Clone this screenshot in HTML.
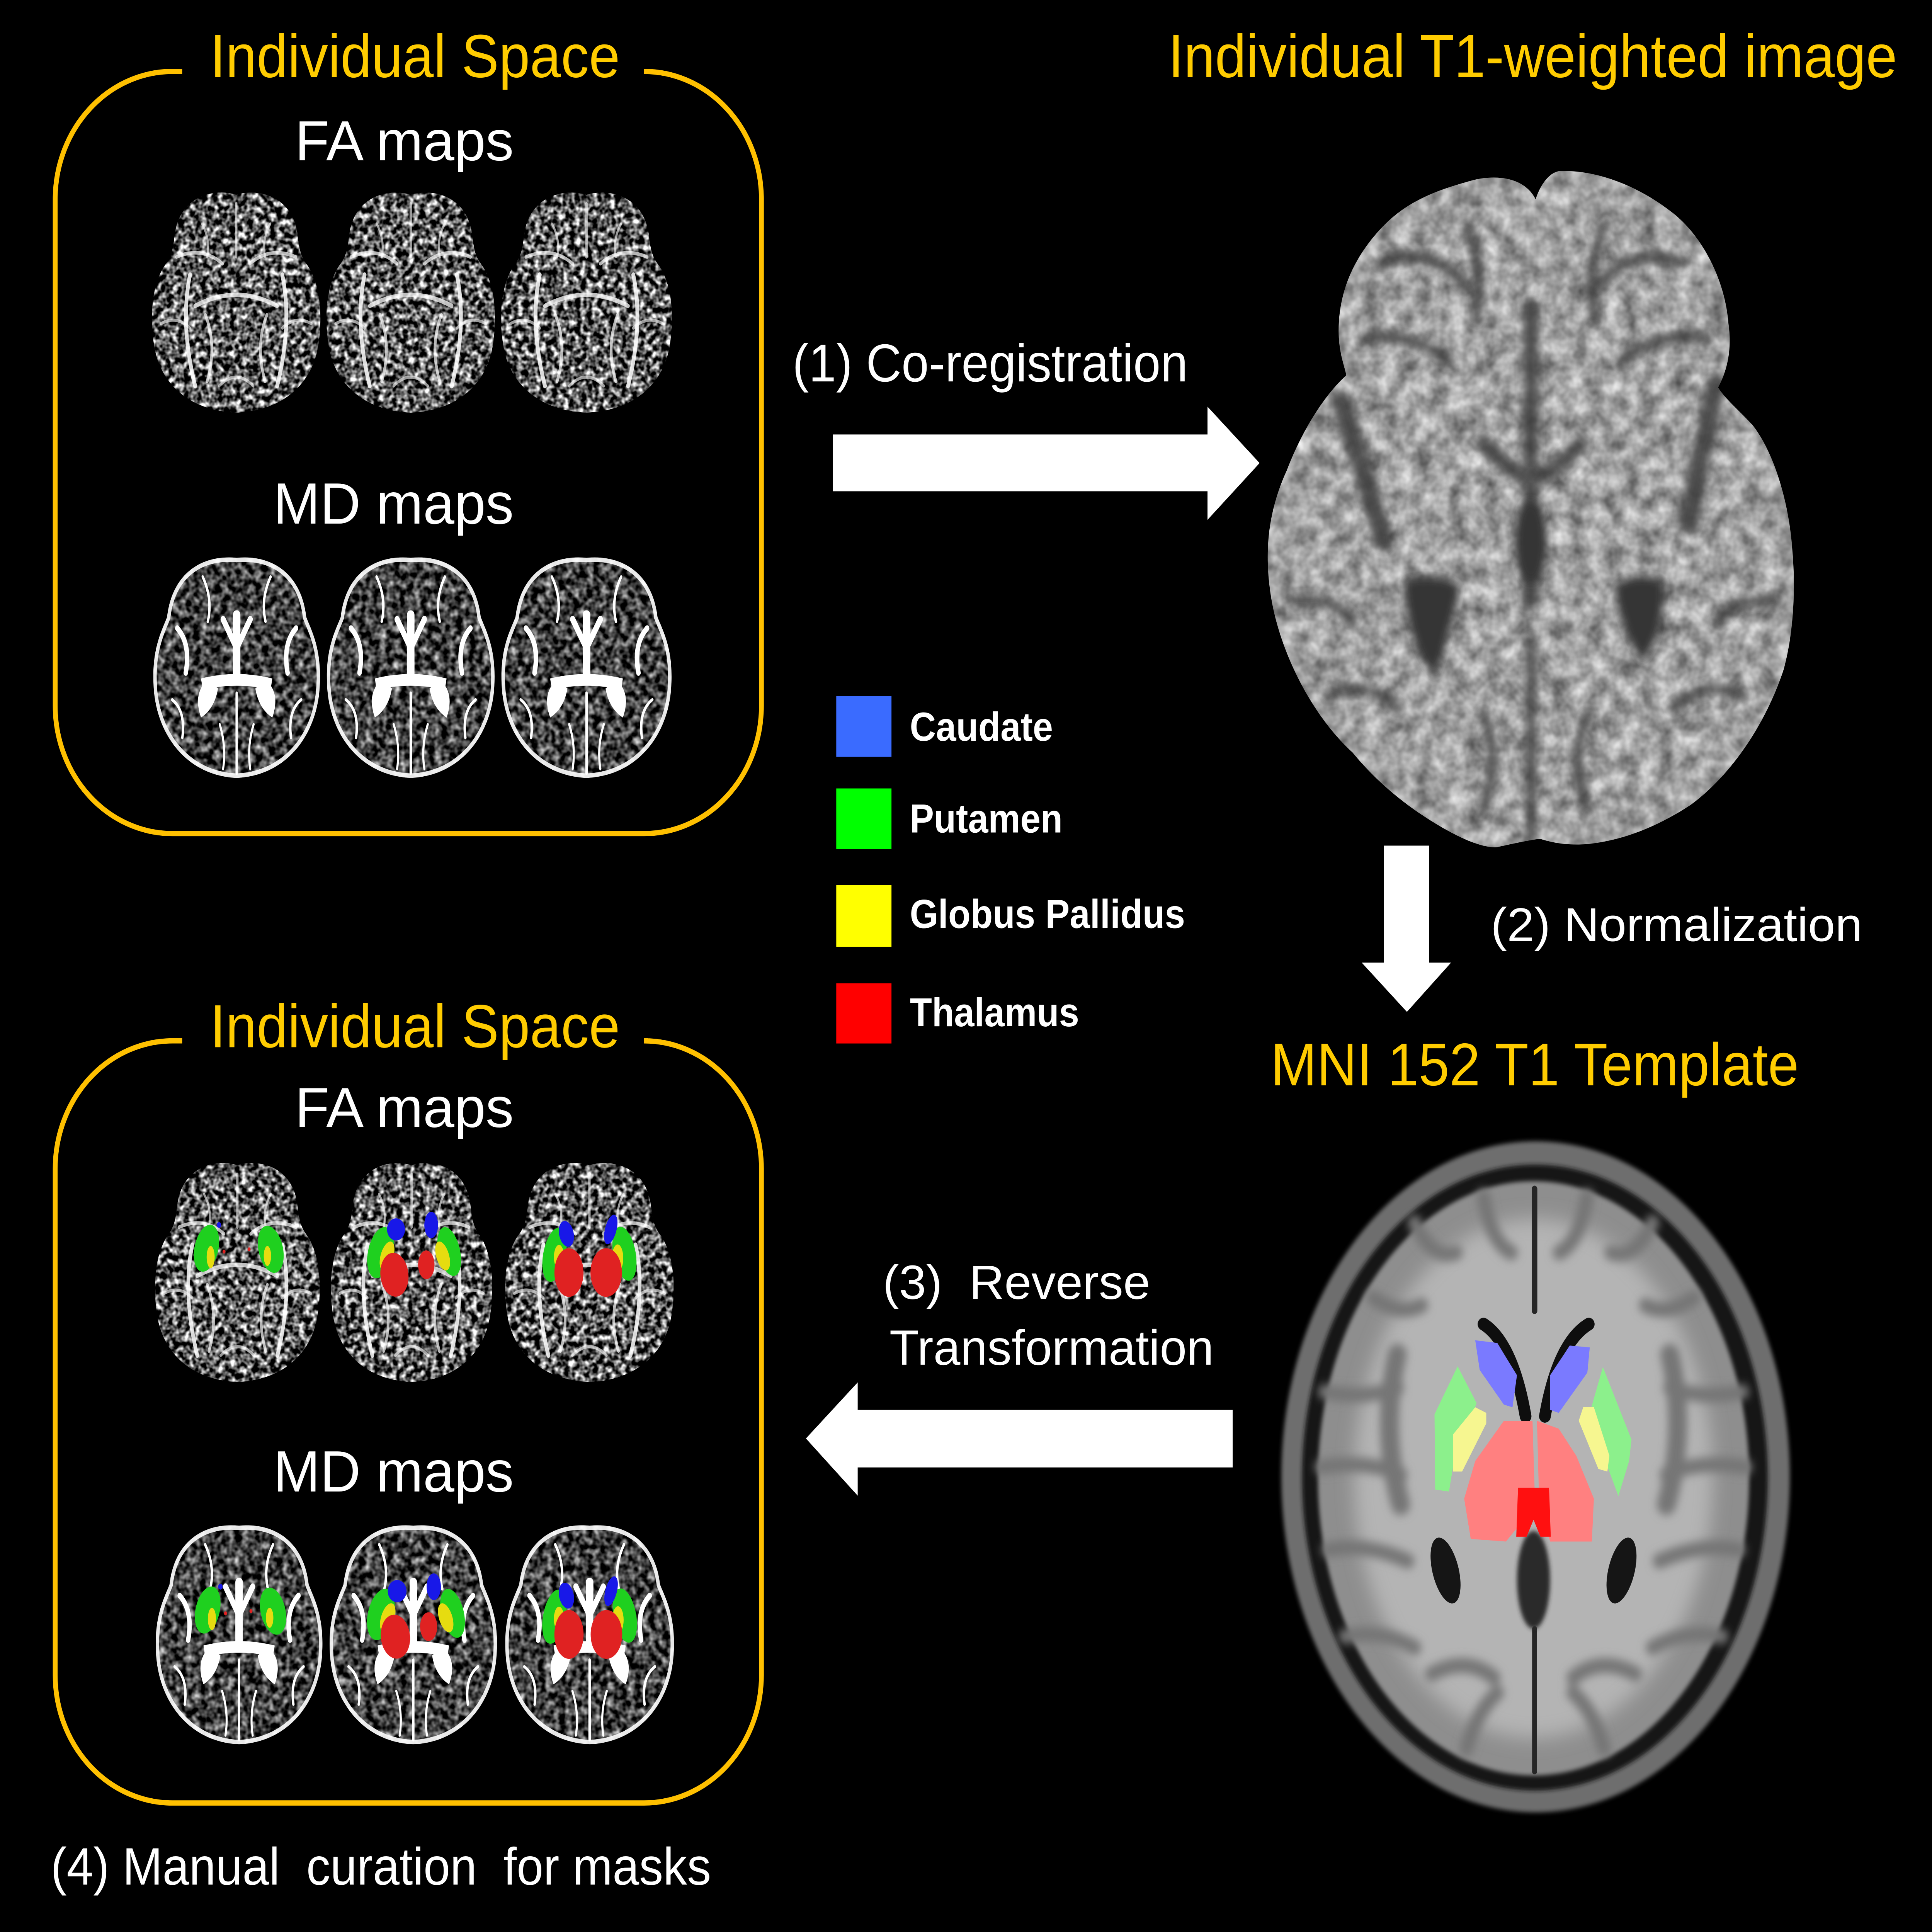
<!DOCTYPE html>
<html><head><meta charset="utf-8"><style>
html,body{margin:0;padding:0;background:#000;overflow:hidden;width:100%;height:100%;}
svg{display:block;width:100vw;height:100vh;}
text{font-family:"Liberation Sans",Arial,sans-serif;white-space:pre;}
</style></head><body>
<svg xmlns="http://www.w3.org/2000/svg" xmlns:xlink="http://www.w3.org/1999/xlink" viewBox="0 0 5600 5136" preserveAspectRatio="none">
<defs>
<path id="bp1" d="M 500 20 C 380 -10, 170 20, 140 200 C 130 270, 120 300, 80 340 C 10 420, -10 560, 20 700 C 50 850, 200 990, 500 1000 C 800 990, 950 850, 980 700 C 1010 560, 990 420, 920 340 C 880 300, 870 270, 860 200 C 830 20, 620 -10, 500 20 Z"/>
<path id="bp2" d="M 500 15 C 300 0, 120 80, 90 280 C 60 340, 0 420, 10 580 C 20 800, 200 990, 500 1000 C 800 990, 980 800, 990 580 C 1000 420, 940 340, 910 280 C 880 80, 700 0, 500 15 Z"/>
<clipPath id="c1b" clipPathUnits="objectBoundingBox"><use xlink:href="#bp1" transform="scale(0.001)"/></clipPath>
<clipPath id="c2b" clipPathUnits="objectBoundingBox"><use xlink:href="#bp2" transform="scale(0.001)"/></clipPath>
<clipPath id="c1u"><use xlink:href="#bp1"/></clipPath>
<clipPath id="c2u"><use xlink:href="#bp2"/></clipPath>
<clipPath id="t1c"><path id="t1p" d="M 4451 530 C 4420 470, 4330 460, 4250 484 C 4150 510, 4070 540, 4000 610 C 3920 690, 3880 780, 3880 880 C 3880 940, 3900 980, 3902 998 C 3850 1040, 3780 1130, 3730 1250 C 3680 1350, 3665 1450, 3680 1560 C 3700 1720, 3800 1900, 3920 2000 C 4000 2090, 4100 2160, 4200 2210 C 4260 2240, 4310 2255, 4340 2252 C 4400 2240, 4440 2232, 4464 2230 C 4500 2240, 4540 2248, 4600 2244 C 4700 2235, 4800 2200, 4900 2140 C 5020 2060, 5120 1920, 5170 1780 C 5200 1680, 5205 1560, 5195 1460 C 5185 1330, 5140 1200, 5080 1130 C 5040 1090, 5000 1060, 4980 1030 C 5010 980, 5020 920, 5010 860 C 5000 740, 4930 620, 4840 560 C 4740 490, 4620 450, 4518 455 C 4490 460, 4465 490, 4451 530 Z"/></clipPath>

<filter id="fa1" x="0" y="0" width="1" height="1" color-interpolation-filters="sRGB"><feTurbulence type="fractalNoise" baseFrequency="0.06" numOctaves="2" seed="1"/><feColorMatrix type="matrix" values="2.6 0 0 0 -0.95  2.6 0 0 0 -0.95  2.6 0 0 0 -0.95  0 0 0 0 1"/></filter>
<filter id="fa2" x="0" y="0" width="1" height="1" color-interpolation-filters="sRGB"><feTurbulence type="fractalNoise" baseFrequency="0.06" numOctaves="2" seed="7"/><feColorMatrix type="matrix" values="2.6 0 0 0 -0.95  2.6 0 0 0 -0.95  2.6 0 0 0 -0.95  0 0 0 0 1"/></filter>
<filter id="fa3" x="0" y="0" width="1" height="1" color-interpolation-filters="sRGB"><feTurbulence type="fractalNoise" baseFrequency="0.06" numOctaves="2" seed="13"/><feColorMatrix type="matrix" values="2.6 0 0 0 -0.95  2.6 0 0 0 -0.95  2.6 0 0 0 -0.95  0 0 0 0 1"/></filter>
<filter id="md1" x="0" y="0" width="1" height="1" color-interpolation-filters="sRGB"><feTurbulence type="fractalNoise" baseFrequency="0.05" numOctaves="2" seed="21"/><feColorMatrix type="matrix" values="1.6 0 0 0 -0.55  1.6 0 0 0 -0.55  1.6 0 0 0 -0.55  0 0 0 0 1"/></filter>
<filter id="md2" x="0" y="0" width="1" height="1" color-interpolation-filters="sRGB"><feTurbulence type="fractalNoise" baseFrequency="0.05" numOctaves="2" seed="33"/><feColorMatrix type="matrix" values="1.6 0 0 0 -0.55  1.6 0 0 0 -0.55  1.6 0 0 0 -0.55  0 0 0 0 1"/></filter>
<filter id="t1f" x="0" y="0" width="1" height="1" color-interpolation-filters="sRGB"><feTurbulence type="fractalNoise" baseFrequency="0.02" numOctaves="3" seed="5"/><feColorMatrix type="matrix" values="0.7 0 0 0 0.28  0.7 0 0 0 0.28  0.7 0 0 0 0.28  0 0 0 0 1"/></filter>
<filter id="bl4" x="-20%" y="-20%" width="140%" height="140%"><feGaussianBlur stdDeviation="4"/></filter>
<filter id="bl6" x="-20%" y="-20%" width="140%" height="140%"><feGaussianBlur stdDeviation="6"/></filter>
<filter id="bl12" x="-20%" y="-20%" width="140%" height="140%"><feGaussianBlur stdDeviation="12"/></filter>
<filter id="bl25" x="-20%" y="-20%" width="140%" height="140%"><feGaussianBlur stdDeviation="25"/></filter>

<g id="faT" fill="none" stroke="#fff" stroke-linecap="round">
 <path d="M 230 380 Q 170 600 260 880" stroke-width="22" opacity=".85"/>
 <path d="M 770 380 Q 830 600 740 880" stroke-width="22" opacity=".85"/>
 <path d="M 260 520 Q 500 420 740 520" stroke-width="20" opacity=".75"/>
 <path d="M 320 560 Q 390 700 330 860" stroke-width="16" opacity=".7"/>
 <path d="M 680 560 Q 610 700 670 860" stroke-width="16" opacity=".7"/>
 <path d="M 500 60 L 500 300" stroke-width="14" opacity=".6"/>
 <path d="M 150 300 Q 300 250 420 330" stroke-width="16" opacity=".7"/>
 <path d="M 850 300 Q 700 250 580 330" stroke-width="16" opacity=".7"/>
 <path d="M 60 600 Q 150 560 230 620" stroke-width="14" opacity=".6"/>
 <path d="M 940 600 Q 850 560 770 620" stroke-width="14" opacity=".6"/>
 <path d="M 300 150 Q 350 220 330 300" stroke-width="12" opacity=".6"/>
 <path d="M 700 150 Q 650 220 670 300" stroke-width="12" opacity=".6"/>
 <path d="M 400 880 Q 500 800 600 880" stroke-width="14" opacity=".6"/>
</g>
<g id="mdT">
 <use xlink:href="#bp2" fill="none" stroke="#fff" stroke-width="40" opacity=".9"/>
 <g fill="#fff">
  <path d="M 330 560 Q 240 620 290 730 Q 370 690 390 600 Z"/>
  <path d="M 670 560 Q 760 620 710 730 Q 630 690 610 600 Z"/>
  <path d="M 290 555 Q 500 515 710 555 L 700 605 Q 500 570 300 605 Z"/>
  <rect x="478" y="250" width="44" height="330" rx="20"/>
 </g>
 <g fill="none" stroke="#fff" stroke-linecap="round">
  <path d="M 420 290 L 500 420 L 580 290" stroke-width="30"/>
  <path d="M 150 330 Q 230 400 200 530" stroke-width="26"/>
  <path d="M 850 330 Q 770 400 800 530" stroke-width="26"/>
  <path d="M 500 620 L 500 980" stroke-width="14"/>
  <path d="M 300 100 Q 360 200 330 300" stroke-width="14"/>
  <path d="M 700 100 Q 640 200 670 300" stroke-width="14"/>
  <path d="M 120 650 Q 200 700 180 820" stroke-width="14"/>
  <path d="M 880 650 Q 800 700 820 820" stroke-width="14"/>
  <path d="M 400 760 Q 440 860 420 960" stroke-width="12"/>
  <path d="M 600 760 Q 560 860 580 960" stroke-width="12"/>
 </g>
</g>
<g id="ovA">
 <ellipse cx="310" cy="415" rx="75" ry="120" transform="rotate(20 310 415)" fill="#1fd01f"/>
 <ellipse cx="730" cy="410" rx="65" ry="115" transform="rotate(-20 730 410)" fill="#1fd01f"/>
 <ellipse cx="350" cy="430" rx="38" ry="70" transform="rotate(25 350 430)" fill="#e6dc10"/>
 <ellipse cx="690" cy="430" rx="38" ry="70" transform="rotate(-25 690 430)" fill="#e6dc10"/>
 <ellipse cx="405" cy="310" rx="55" ry="50" fill="#1818e8"/>
 <ellipse cx="620" cy="290" rx="42" ry="60" fill="#1818e8"/>
 <ellipse cx="395" cy="515" rx="85" ry="100" transform="rotate(-15 395 515)" fill="#e02222"/>
 <ellipse cx="590" cy="470" rx="50" ry="65" fill="#e02222"/>
</g>
<g id="ovB">
 <ellipse cx="295" cy="425" rx="65" ry="125" transform="rotate(15 295 425)" fill="#1fd01f"/>
 <ellipse cx="705" cy="420" rx="65" ry="125" transform="rotate(-15 705 420)" fill="#1fd01f"/>
 <ellipse cx="322" cy="435" rx="30" ry="55" fill="#e6dc10"/>
 <ellipse cx="665" cy="440" rx="33" ry="62" fill="#e6dc10"/>
 <ellipse cx="365" cy="330" rx="42" ry="60" transform="rotate(-20 365 330)" fill="#1818e8"/>
 <ellipse cx="625" cy="310" rx="33" ry="70" transform="rotate(20 625 310)" fill="#1818e8"/>
 <ellipse cx="380" cy="505" rx="85" ry="110" fill="#e02222"/>
 <ellipse cx="598" cy="505" rx="92" ry="110" fill="#e02222"/>
</g>
<g id="ovC">
 <ellipse cx="315" cy="395" rx="70" ry="110" transform="rotate(20 315 395)" fill="#1fd01f"/>
 <ellipse cx="700" cy="400" rx="72" ry="110" transform="rotate(-20 700 400)" fill="#1fd01f"/>
 <ellipse cx="340" cy="435" rx="24" ry="50" fill="#e6dc10"/>
 <ellipse cx="680" cy="430" rx="22" ry="45" fill="#e6dc10"/>
 <circle cx="390" cy="290" r="13" fill="#1818e8"/>
 <circle cx="420" cy="410" r="9" fill="#e02222"/>
 <circle cx="570" cy="400" r="9" fill="#e02222"/>
</g>
</defs>

<rect width="5600" height="5136" fill="#000"/>

<!-- Boxes -->
<g fill="none" stroke="#ffc000" stroke-width="14">
<path d="M 528 190 H 500 A 340 340 0 0 0 160 530 V 1876 A 340 340 0 0 0 500 2216 H 1867 A 340 340 0 0 0 2207 1876 V 530 A 340 340 0 0 0 1867 190 H 1878"/>
<path d="M 528 2767 H 500 A 340 340 0 0 0 160 3107 V 4453 A 340 340 0 0 0 500 4793 H 1867 A 340 340 0 0 0 2207 4453 V 3107 A 340 340 0 0 0 1867 2767 H 1878"/>
</g>

<!-- Top FA brains -->
<rect x="437" y="506" width="495" height="591" filter="url(#fa1)" clip-path="url(#c1b)"/>
<g transform="translate(437,506) scale(0.495,0.591)" clip-path="url(#c1u)"><use xlink:href="#faT"/></g>
<rect x="943" y="506" width="495" height="591" filter="url(#fa2)" clip-path="url(#c1b)"/>
<g transform="translate(943,506) scale(0.495,0.591)" clip-path="url(#c1u)"><use xlink:href="#faT"/></g>
<rect x="1449" y="506" width="502" height="591" filter="url(#fa3)" clip-path="url(#c1b)"/>
<g transform="translate(1449,506) scale(0.502,0.591)" clip-path="url(#c1u)"><use xlink:href="#faT"/></g>

<!-- Top MD brains -->
<rect x="440" y="1474" width="492" height="594" filter="url(#md1)" clip-path="url(#c2b)"/>
<g transform="translate(440,1474) scale(0.492,0.594)" clip-path="url(#c2u)"><use xlink:href="#mdT"/></g>
<rect x="943" y="1474" width="495" height="594" filter="url(#md2)" clip-path="url(#c2b)"/>
<g transform="translate(943,1474) scale(0.495,0.594)" clip-path="url(#c2u)"><use xlink:href="#mdT"/></g>
<rect x="1449" y="1474" width="502" height="594" filter="url(#md1)" clip-path="url(#c2b)"/>
<g transform="translate(1449,1474) scale(0.502,0.594)" clip-path="url(#c2u)"><use xlink:href="#mdT"/></g>

<!-- Bottom FA brains -->
<rect x="446" y="3086" width="484" height="588" filter="url(#fa2)" clip-path="url(#c1b)"/>
<g transform="translate(446,3086) scale(0.484,0.588)" clip-path="url(#c1u)"><use xlink:href="#faT"/><use xlink:href="#ovC"/></g>
<rect x="956" y="3086" width="474" height="588" filter="url(#fa3)" clip-path="url(#c1b)"/>
<g transform="translate(956,3086) scale(0.474,0.588)" clip-path="url(#c1u)"><use xlink:href="#faT"/><use xlink:href="#ovA"/></g>
<rect x="1461" y="3086" width="495" height="588" filter="url(#fa1)" clip-path="url(#c1b)"/>
<g transform="translate(1461,3086) scale(0.495,0.588)" clip-path="url(#c1u)"><use xlink:href="#faT"/><use xlink:href="#ovB"/></g>

<!-- Bottom MD brains -->
<rect x="447" y="4047" width="492" height="590" filter="url(#md2)" clip-path="url(#c2b)"/>
<g transform="translate(447,4047) scale(0.492,0.590)" clip-path="url(#c2u)"><use xlink:href="#mdT"/><use xlink:href="#ovC"/></g>
<rect x="951" y="4047" width="494" height="590" filter="url(#md1)" clip-path="url(#c2b)"/>
<g transform="translate(951,4047) scale(0.494,0.590)" clip-path="url(#c2u)"><use xlink:href="#mdT"/><use xlink:href="#ovA"/></g>
<rect x="1460" y="4047" width="498" height="590" filter="url(#md2)" clip-path="url(#c2b)"/>
<g transform="translate(1460,4047) scale(0.498,0.590)" clip-path="url(#c2u)"><use xlink:href="#mdT"/><use xlink:href="#ovB"/></g>

<!-- T1 brain -->
<rect x="3660" y="440" width="1560" height="1830" filter="url(#t1f)" clip-path="url(#t1c)"/>
<g clip-path="url(#t1c)">
 <g fill="none" stroke="#3c3c3c" stroke-linecap="round" filter="url(#bl12)" opacity=".85">
  <path d="M 3888 1071 Q 3950 1250 4009 1438" stroke-width="55"/>
  <path d="M 4973 1027 Q 4930 1200 4893 1394" stroke-width="55"/>
  <path d="M 4437 820 L 4437 1600" stroke-width="45"/>
  <path d="M 4300 1180 Q 4400 1280 4437 1260 Q 4480 1280 4580 1180" stroke-width="40"/>
  <path d="M 4000 700 Q 4150 650 4250 760" stroke-width="30"/>
  <path d="M 4880 700 Q 4730 650 4630 760" stroke-width="30"/>
  <path d="M 3950 900 Q 4100 880 4200 960" stroke-width="28"/>
  <path d="M 4950 900 Q 4800 880 4700 960" stroke-width="28"/>
  <path d="M 3750 1600 Q 3850 1580 3920 1650" stroke-width="28"/>
  <path d="M 5150 1600 Q 5050 1580 4980 1650" stroke-width="28"/>
  <path d="M 3850 1850 Q 3950 1800 4050 1880" stroke-width="28"/>
  <path d="M 5050 1850 Q 4950 1800 4850 1880" stroke-width="28"/>
  <path d="M 4300 1900 Q 4350 2000 4300 2150" stroke-width="28"/>
  <path d="M 4600 1900 Q 4550 2000 4600 2150" stroke-width="28"/>
  <path d="M 4437 1700 L 4437 2230" stroke-width="30"/>
  <path d="M 4250 600 Q 4300 700 4280 850" stroke-width="26"/>
  <path d="M 4650 600 Q 4600 700 4620 850" stroke-width="26"/>
 </g>
 <g fill="#353535" filter="url(#bl12)">
  <path d="M 4070 1540 Q 4180 1520 4230 1560 Q 4200 1700 4160 1800 Q 4080 1720 4070 1540 Z"/>
  <path d="M 4820 1540 Q 4720 1520 4680 1560 Q 4700 1680 4760 1760 Q 4830 1680 4820 1540 Z"/>
  <ellipse cx="4437" cy="1440" rx="45" ry="110"/>
 </g>
</g>

<!-- MNI brain -->
<g>
 <ellipse cx="4451" cy="3926" rx="737" ry="892" fill="#6e6e6e" filter="url(#bl6)"/>
 <ellipse cx="4449" cy="3928" rx="675" ry="832" fill="#151515" filter="url(#bl6)"/>
 <ellipse cx="4445" cy="3930" rx="625" ry="790" fill="#8e8e8e" filter="url(#bl6)"/>
 <ellipse cx="4445" cy="3930" rx="520" ry="690" fill="#b4b4b4" filter="url(#bl25)"/>
 <g fill="none" stroke="#767676" stroke-linecap="round" stroke-width="40" filter="url(#bl12)">
  <path d="M 3840 3700 Q 3950 3720 4050 3690"/>
  <path d="M 3830 3900 Q 3960 3880 4060 3920"/>
  <path d="M 3850 4120 Q 3960 4100 4080 4150"/>
  <path d="M 3900 4350 Q 4000 4330 4100 4380"/>
  <path d="M 3980 3450 Q 4060 3500 4120 3470"/>
  <path d="M 4100 3250 Q 4150 3350 4220 3330"/>
  <path d="M 5050 3700 Q 4940 3720 4840 3690"/>
  <path d="M 5060 3900 Q 4930 3880 4830 3920"/>
  <path d="M 5040 4120 Q 4930 4100 4810 4150"/>
  <path d="M 4990 4350 Q 4890 4330 4790 4380"/>
  <path d="M 4910 3450 Q 4830 3500 4770 3470"/>
  <path d="M 4790 3250 Q 4740 3350 4670 3330"/>
  <path d="M 4300 3180 Q 4320 3300 4380 3330"/>
  <path d="M 4600 3180 Q 4580 3300 4520 3330"/>
  <path d="M 4250 4650 Q 4280 4550 4340 4500"/>
  <path d="M 4650 4650 Q 4620 4550 4560 4500"/>
  <path d="M 4050 3600 Q 4000 3800 4060 4000" stroke-width="55"/>
  <path d="M 4840 3600 Q 4890 3800 4830 4000" stroke-width="55"/>
  <path d="M 4150 4450 Q 4250 4400 4330 4460"/>
  <path d="M 4740 4450 Q 4640 4400 4560 4460"/>
 </g>
 <g fill="none" stroke="#262626" stroke-linecap="round">
  <path d="M 4448 3160 L 4448 3485" stroke-width="16"/>
  <path d="M 4448 4330 L 4448 4710" stroke-width="14"/>
  <path d="M 4300 3520 Q 4385 3570 4422 3765" stroke-width="34" stroke="#0e0e0e"/>
  <path d="M 4605 3520 Q 4515 3570 4478 3765" stroke-width="34" stroke="#0e0e0e"/>
 </g>
 <ellipse cx="4190" cy="4175" rx="38" ry="90" transform="rotate(-15 4190 4175)" fill="#151515"/>
 <ellipse cx="4700" cy="4175" rx="38" ry="90" transform="rotate(15 4700 4175)" fill="#151515"/>
 <ellipse cx="4445" cy="4200" rx="48" ry="130" fill="#2a2a2a" filter="url(#bl6)"/>
 <polygon points="4276,3563 4340,3570 4397,3656 4384,3741 4359,3734 4289,3642" fill="#7a7aff"/>
 <polygon points="4550,3577 4608,3582 4601,3649 4518,3756 4493,3748 4493,3656" fill="#7a7aff"/>
 <polygon points="4225,3632 4280,3730 4215,3880 4200,3965 4160,3960 4158,3760" fill="#8cf08c"/>
 <polygon points="4646,3634 4729,3827 4722,3884 4691,3977 4659,3898 4608,3756" fill="#8cf08c"/>
 <polygon points="4276,3741 4308,3756 4308,3784 4238,3912 4212,3912 4212,3813" fill="#f6f690"/>
 <polygon points="4589,3741 4620,3741 4665,3870 4659,3912 4633,3905 4576,3777" fill="#f6f690"/>
 <polygon points="4359,3777 4442,3777 4448,3955 4416,4041 4365,4098 4263,4091 4244,3984 4276,3884" fill="#ff8080"/>
 <polygon points="4455,3777 4518,3798 4569,3870 4620,3984 4614,4098 4493,4098 4461,3984" fill="#ff8080"/>
 <polygon points="4400,3955 4490,3955 4495,4085 4465,4085 4445,4040 4425,4085 4395,4085" fill="#ff1010"/>
</g>

<!-- Arrows -->
<g fill="#fff">
 <rect x="2414" y="1155" width="1088" height="151"/>
 <polygon points="3500,1081 3651,1231 3500,1382"/>
 <rect x="4011" y="2248" width="131" height="312"/>
 <polygon points="3947,2559 4206,2559 4078,2690"/>
 <rect x="2484" y="3748" width="1089" height="153"/>
 <polygon points="2486,3675 2486,3976 2336,3824"/>
</g>

<!-- Legend -->
<rect x="2424" y="1851" width="160" height="161" fill="#3a6bff"/>
<rect x="2424" y="2096" width="160" height="161" fill="#00ff00"/>
<rect x="2424" y="2353" width="160" height="164" fill="#ffff00"/>
<rect x="2424" y="2614" width="160" height="160" fill="#ff0000"/>
<g fill="#fff" font-weight="bold" font-size="108">
 <text x="2637" y="1969" textLength="415" lengthAdjust="spacingAndGlyphs">Caudate</text>
 <text x="2637" y="2213" textLength="443" lengthAdjust="spacingAndGlyphs">Putamen</text>
 <text x="2637" y="2467" textLength="798" lengthAdjust="spacingAndGlyphs">Globus Pallidus</text>
 <text x="2637" y="2728" textLength="491" lengthAdjust="spacingAndGlyphs">Thalamus</text>
</g>

<!-- Texts -->
<g fill="#ffcc00">
 <text x="609" y="205" font-size="162" textLength="1188" lengthAdjust="spacingAndGlyphs">Individual Space</text>
 <text x="609" y="2784" font-size="162" textLength="1188" lengthAdjust="spacingAndGlyphs">Individual Space</text>
 <text x="3386" y="205" font-size="162" textLength="2113" lengthAdjust="spacingAndGlyphs">Individual T1-weighted image</text>
 <text x="3683" y="2885" font-size="160" textLength="1531" lengthAdjust="spacingAndGlyphs">MNI 152 T1 Template</text>
</g>
<g fill="#fff">
 <text x="855" y="426" font-size="150" textLength="634" lengthAdjust="spacingAndGlyphs">FA maps</text>
 <text x="792" y="1392" font-size="155" textLength="697" lengthAdjust="spacingAndGlyphs">MD maps</text>
 <text x="855" y="2996" font-size="150" textLength="634" lengthAdjust="spacingAndGlyphs">FA maps</text>
 <text x="792" y="3965" font-size="155" textLength="697" lengthAdjust="spacingAndGlyphs">MD maps</text>
 <text x="2297" y="1014" font-size="142" textLength="1146" lengthAdjust="spacingAndGlyphs">(1) Co-registration</text>
 <text x="4321" y="2502" font-size="126" textLength="1077" lengthAdjust="spacingAndGlyphs">(2) Normalization</text>
 <text x="2559" y="3453" font-size="128" textLength="775" lengthAdjust="spacingAndGlyphs">(3)  Reverse</text>
 <text x="2578" y="3628" font-size="132" textLength="940" lengthAdjust="spacingAndGlyphs">Transformation</text>
 <text x="147" y="5010" font-size="140" textLength="1914" lengthAdjust="spacingAndGlyphs">(4) Manual  curation  for masks</text>
</g>
</svg>
</body></html>
